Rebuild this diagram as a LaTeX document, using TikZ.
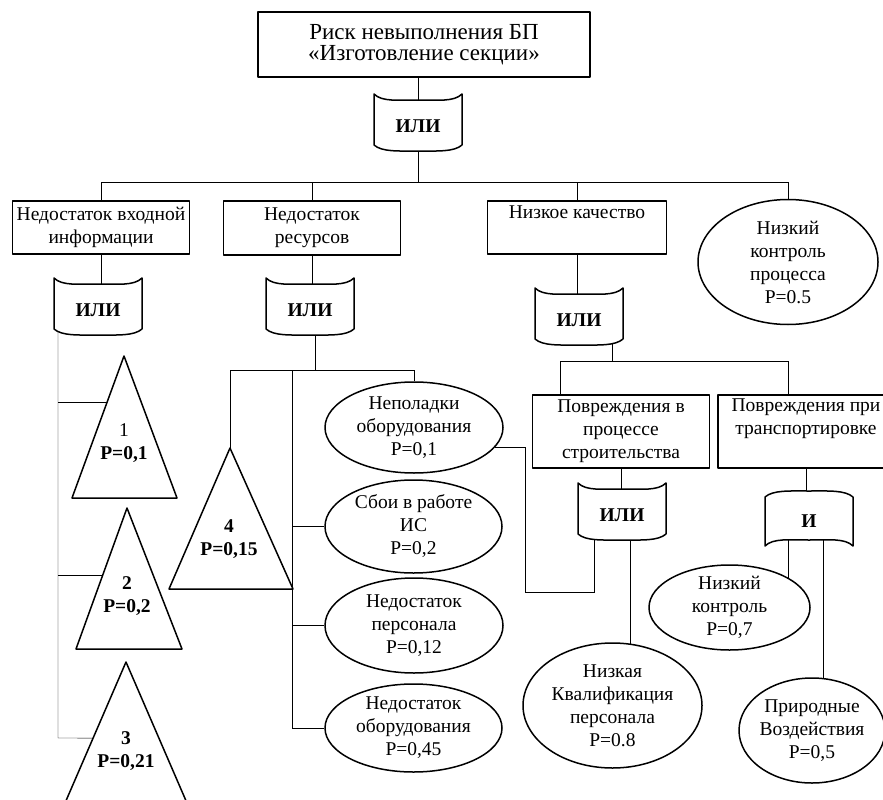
\documentclass[tikz,border=0pt]{standalone}
\usepackage{fontspec}
\setmainfont{Liberation Serif}
\usetikzlibrary{shapes.geometric,backgrounds}
\newcommand{\txtsize}{\fontsize{19.5}{23}\selectfont}
\tikzset{
  every picture/.style={line join=round},
  wire/.style={black, line width=1.6pt},
  box/.style={draw, fill=white, line width=1.5pt, inner sep=0pt, align=center,
    font=\txtsize, minimum width=177pt},
  event/.style={draw, ellipse, fill=white, line width=1.5pt, inner sep=0pt},
  evlbl/.style={align=center, font=\txtsize, inner sep=0pt},
  gateline/.style={draw, fill=white, line width=1.5pt},
  gatelbl/.style={font=\txtsize\bfseries, inner sep=0pt},
  tri/.style={draw, fill=white, line width=1.5pt},
  trilbl/.style={align=center, font=\txtsize\bfseries, inner sep=0pt},
}

\begin{document}
\begin{tikzpicture}[x=1pt, y=-1pt]
\useasboundingbox (0,0) rectangle (883,800);
% top event
\node[box, minimum width=332pt, minimum height=65pt, font=\fontsize{23}{21.6}\selectfont]
  (risk) at (424,44.5) {Риск невыполнения БП\\«Изготовление секции»};
% second level
\node[box, minimum height=53pt] (input) at (101,227.5) {Недостаток входной\\информации};
\node[box, minimum height=54pt] (res) at (312,228) {Недостаток\\ресурсов};
\node[box, minimum width=179pt, minimum height=53pt] (qual) at (577,227.5) {Низкое качество\\ \strut};
\node[event, minimum width=180pt, minimum height=125pt,
  label={[evlbl]center:{Низкий\\контроль\\процесса\\P=0.5}}] (proc) at (788,262) {};
% causes of the lack of resources
\node[event, minimum width=178pt, minimum height=91pt,
  label={[evlbl]center:{Неполадки\\оборудования\\P=0,1}}] (fault) at (414,427.5) {};
\node[event, minimum width=177pt, minimum height=93pt,
  label={[evlbl]center:{Сбои в работе\\ИС\\P=0,2}}] (isfail) at (413.5,526.5) {};
\node[event, minimum width=178pt, minimum height=95pt,
  label={[evlbl]center:{Недостаток\\персонала\\P=0,12}}] (staff) at (414,625.5) {};
\node[event, minimum width=177pt, minimum height=88pt,
  label={[evlbl]center:{Недостаток\\оборудования\\P=0,45}}] (equip) at (413.5,728) {};
% damage
\node[box, minimum height=73pt] (bld) at (621,431.5) {Повреждения в\\процессе\\строительства};
\node[box, minimum width=176pt, minimum height=73pt] (trn) at (806,431.5) {Повреждения при\\транспортировке\\ \strut};
\node[event, minimum width=161pt, minimum height=85pt,
  label={[evlbl]center:{Низкий\\контроль\\P=0,7}}] (lowc) at (729.5,607.5) {};
\node[event, minimum width=179pt, minimum height=125pt,
  label={[evlbl]center:{Низкая\\Квалификация\\персонала\\P=0.8}}] (lowq) at (612.5,705.5) {};
\node[event, minimum width=146pt, minimum height=105pt,
  label={[evlbl]center:{Природные\\Воздействия\\P=0,5}}] (nat) at (812,730.5) {};
% gates
\foreach \nm/\cx/\cy in {gtop/418/121, gin/98/305, gres/310/305, gqual/579/315, gbld/622/510} {
  \draw[gateline, shift={(\cx,\cy)}] (-44,-27) .. controls (-36,-19) and (-20,-21) .. (0,-21)
    .. controls (20,-21) and (36,-19) .. (44,-27) -- (44,24) .. controls (36,31) and (20,30) .. (0,30)
    .. controls (-20,30) and (-36,31) .. (-44,24) -- cycle;
  \node[gatelbl] (\nm) at (\cx,\cy+5) {ИЛИ};
}
\draw[gateline, shift={(809,520)}, yscale=-1] (-44,-26) .. controls (-36,-18) and (-20,-20) .. (0,-20)
  .. controls (20,-20) and (36,-18) .. (44,-26) -- (44,23) .. controls (36,30) and (20,29) .. (0,29)
  .. controls (-20,29) and (-36,30) .. (-44,23) -- cycle;
\node[gatelbl] (gand) at (809,521) {И};
\coordinate (gin-l) at (58,310);
\coordinate (gbld-l) at (594,520);
\coordinate (gbld-r) at (630,520);
\coordinate (gand-l) at (788,525);
\coordinate (gand-r) at (823,525);
% transferred events
\draw[tri] (72,498) -- coordinate[pos=0.676] (t1s) (124,356) -- (177,498) -- cycle;
\node[trilbl] (t1) at (124,443) {{\mdseries 1}\\P=0,1};
\draw[tri] (76,649) -- coordinate[pos=0.525] (t2s) (127,508) -- (182,649) -- cycle;
\node[trilbl] (t2) at (127,596) {2\\P=0,2};
\draw[tri] (62,810) -- coordinate[pos=0.486] (t3s) (126,662) -- (190,810) -- cycle;
\node[trilbl] (t3) at (126,751) {3\\P=0,21};
\draw[tri] (169,589) -- (230,448) coordinate (t4a) -- (293,589) -- cycle;
\node[trilbl] (t4) at (229,539) {4\\P=0,15};
% connectors
\begin{scope}[on background layer, wire]
  \coordinate (j0) at (418,182);
  \draw (risk.south -| gtop) -- (gtop);
  \draw (gtop) -- (j0);
  \draw (j0) -| (input.north);
  \draw (j0) -| (res.north);
  \draw (j0) -| (qual.north);
  \draw (j0) -| (proc.north);
  \draw (input.south) -- (input.south |- gin);
  \draw (res.south) -- (res.south |- gres);
  \draw (qual.south) -- (qual.south |- gqual);
  % input information
  \coordinate (jin) at (58,738);
  \draw (gin-l) -- (jin) -- (t3s);
  \draw (jin |- t1s) -- (t1s);
  \draw (jin |- t2s) -- (t2s);
  % resources
  \coordinate (jr) at (315,370);
  \coordinate (jr2) at (292,370);
  \draw (gres -| jr) -- (jr);
  \draw (jr) -| (t4a);
  \draw (jr) -| (fault.north);
  \draw (jr2) |- (isfail.west);
  \draw (jr2) |- (staff.west);
  \draw (jr2) |- (equip.west);
  % quality
  \coordinate (jq) at (612,361);
  \coordinate (jq1) at (560,361);
  \coordinate (jq2) at (788,361);
  \draw (gqual -| jq) -- (jq);
  \draw (jq1) -- (jq2);
  \draw (jq1) -- (jq1 |- bld.north);
  \draw (jq2) -- (jq2 |- trn.north);
  \draw (bld.south) -- (bld.south |- gbld);
  \draw (trn.south) -- (trn.south |- gand);
  \coordinate (jf) at (525,592);
  \draw (fault.346) -| (jf) -| (gbld-l);
  \draw (gbld-r) -- (gbld-r |- lowq.center);
  \draw (gand-l) -- (gand-l |- lowc.center);
  \draw (gand-r) -- (gand-r |- nat.center);
\end{scope}
\end{tikzpicture}
\end{document}
